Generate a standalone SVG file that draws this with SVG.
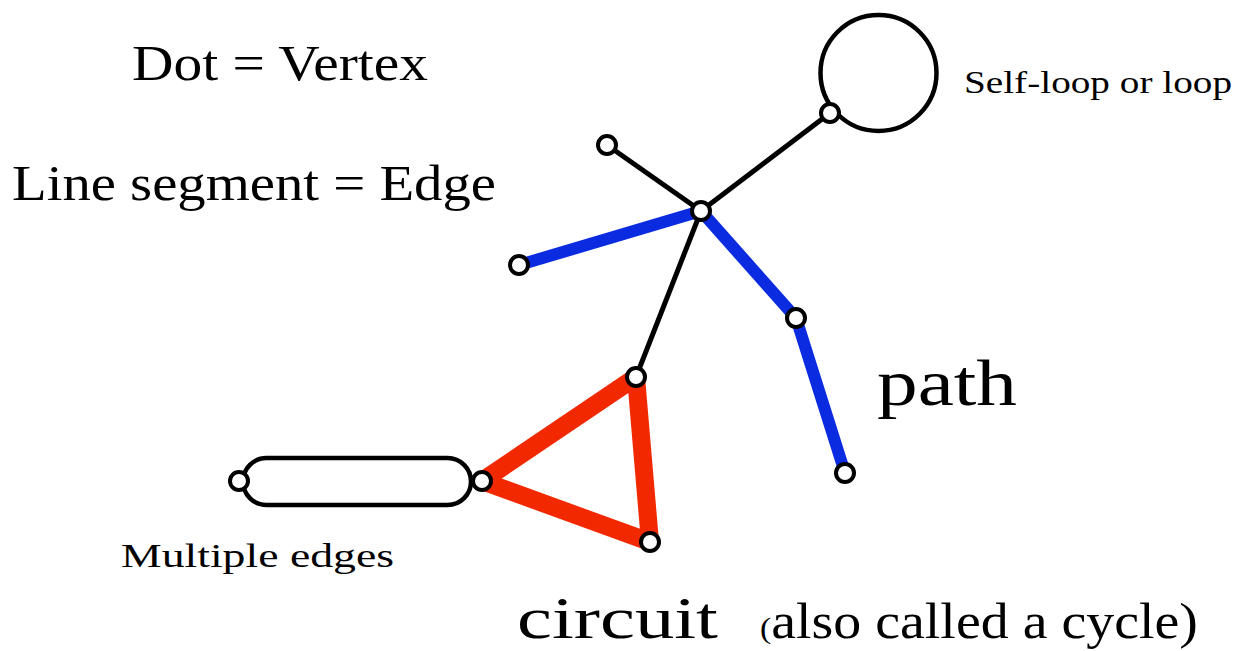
<svg xmlns="http://www.w3.org/2000/svg" width="1241" height="651" viewBox="0 0 1241 651">
<style>
text{font-family:"Liberation Serif","DejaVu Serif",serif;fill:#000}
.blk{stroke:#000;stroke-width:5;fill:none}
.blue{stroke:#0b2be0;stroke-width:12;fill:none}
.red{stroke:#f22900;stroke-width:18;fill:none;stroke-linejoin:bevel}
.ln{stroke:#000;stroke-width:4.5;fill:none}
.v{fill:#fff;stroke:#000;stroke-width:4}
</style>
<rect width="1241" height="651" fill="#fff"/>
<g id="connectors">
<line class="blk" x1="701" y1="211" x2="607" y2="145"/>
<line class="blk" x1="701" y1="211" x2="830" y2="113"/>
<line class="blk" x1="701" y1="211" x2="636" y2="377"/>
<line class="blue" x1="701" y1="211" x2="519" y2="265"/>
<polyline class="blue" points="701,211 796,318 845,473"/>
<polygon class="red" points="636,377 482,481 650,542"/>
<circle class="ln" cx="878.5" cy="73" r="58"/>
<rect class="ln" x="243" y="458" width="228" height="47" rx="23.5"/>
</g>
<g id="n-hub"><circle class="v" cx="701" cy="211" r="9"/></g>
<g id="n-a"><circle class="v" cx="607" cy="145" r="9"/></g>
<g id="n-loop"><circle class="v" cx="830" cy="113" r="9"/></g>
<g id="n-b"><circle class="v" cx="519" cy="265" r="9"/></g>
<g id="n-c"><circle class="v" cx="796" cy="318" r="9"/></g>
<g id="n-d"><circle class="v" cx="845" cy="473" r="9"/></g>
<g id="n-t1"><circle class="v" cx="636" cy="377" r="9"/></g>
<g id="n-t2"><circle class="v" cx="482" cy="481" r="9"/></g>
<g id="n-t3"><circle class="v" cx="650" cy="542" r="9"/></g>
<g id="n-m"><circle class="v" cx="239" cy="481" r="9"/></g>
<g id="labels">
<text x="132" y="80" font-size="50" textLength="296" lengthAdjust="spacingAndGlyphs">Dot = Vertex</text>
<text x="12" y="200" font-size="50" textLength="484" lengthAdjust="spacingAndGlyphs">Line segment = Edge</text>
<text x="964" y="93" font-size="32" textLength="268" lengthAdjust="spacingAndGlyphs">Self-loop or loop</text>
<text x="877" y="405" font-size="65" textLength="140" lengthAdjust="spacingAndGlyphs">path</text>
<text x="121" y="567" font-size="34" textLength="273" lengthAdjust="spacingAndGlyphs">Multiple edges</text>
<text x="517" y="638" font-size="60" textLength="201" lengthAdjust="spacingAndGlyphs">circuit</text>
<text x="760" y="638" font-size="50" textLength="438" lengthAdjust="spacingAndGlyphs"><tspan font-size="30">(</tspan>also called a cycle)</text>
</g>
</svg>
